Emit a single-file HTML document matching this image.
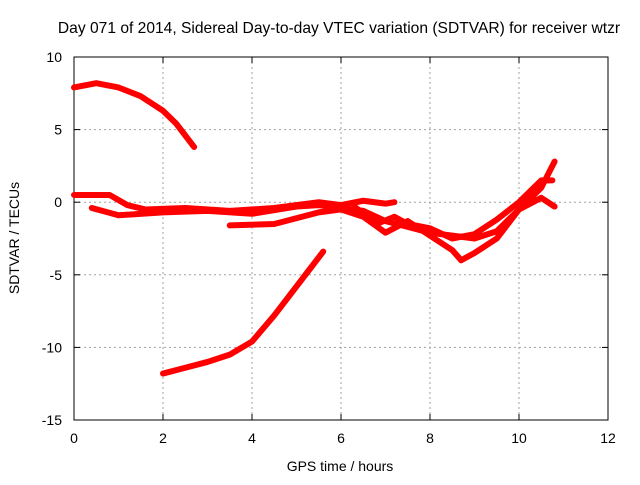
<!DOCTYPE html>
<html><head><meta charset="utf-8"><style>
body{margin:0;background:#fff;}
svg text{font-family:"Liberation Sans",sans-serif;font-size:14px;fill:#000;}
</style></head><body>
<svg id="chart" width="640" height="480">
<text x="339" y="33" text-anchor="middle" style="font-size:15.6px">Day 071 of 2014, Sidereal Day-to-day VTEC variation (SDTVAR) for receiver wtzr</text>
<g id="grid"></g><g id="axes"></g><g id="series"></g>
<text x="340" y="471" text-anchor="middle">GPS time / hours</text>
<text transform="translate(19,238) rotate(-90)" text-anchor="middle">SDTVAR / TECUs</text>
</svg>
<script>
const xTicks=[0,2,4,6,8,10,12];
const yTicks=[10,5,0,-5,-10,-15];
const seriesA=[[0,7.9],[0.5,8.2],[1,7.9],[1.5,7.3],[2,6.3],[2.3,5.4],[2.7,3.8]];
const seriesB=[[2,-11.8],[2.5,-11.4],[3,-11],[3.5,-10.5],[4,-9.6],[4.5,-7.8],[5,-5.8],[5.3,-4.6],[5.6,-3.4]];
const seriesC=[[0,0.5],[0.8,0.5],[1.2,-0.2],[1.6,-0.5],[2.5,-0.4],[3.5,-0.6],[4.5,-0.4],[5.5,0],[6,-0.2],[6.5,0.1],[7,-0.1],[7.2,0]];
const seriesD=[[0.4,-0.4],[1,-0.9],[2,-0.7],[3,-0.6],[4,-0.8],[5,-0.3],[5.5,-0.2],[6,-0.4],[6.5,-0.6],[7,-1.3],[7.5,-1.7],[8,-2.1],[8.5,-2.3],[9,-2.5],[9.5,-2],[10,-0.5],[10.5,0.3],[10.8,-0.3]];
const seriesE=[[3.5,-1.6],[4.5,-1.5],[5.5,-0.7],[6,-0.5],[6.5,-1],[7,-2.1],[7.5,-1.3],[8,-2.3],[8.5,-3.3],[8.7,-4],[9,-3.5],[9.5,-2.5],[10,-0.5],[10.5,1],[10.8,2.8]];
const seriesF=[[6.3,-0.3],[6.8,-1.5],[7.2,-1],[7.5,-1.5],[8,-1.8],[8.5,-2.5],[9,-2.2],[9.5,-1.2],[10,0],[10.5,1.5],[10.75,1.5]];
const allSeries=[seriesA,seriesB,seriesC,seriesD,seriesE,seriesF];
const X0=74,X1=608,Y0=57,Y1=420;
const sx=h=>X0+(h-0)/(12-0)*(X1-X0);
const sy=v=>Y0+(10-v)/(10-(-15))*(Y1-Y0);
const NS="http://www.w3.org/2000/svg";
const grid=document.getElementById('grid'),axes=document.getElementById('axes'),ser=document.getElementById('series');
function mk(tag,attrs,parent){const e=document.createElementNS(NS,tag);for(const k in attrs)e.setAttribute(k,attrs[k]);parent.appendChild(e);return e;}
xTicks.forEach(t=>{
  const x=sx(t);
  if(t>0&&t<12){const g=mk('line',{x1:x,x2:x,y1:Y0,y2:Y1,stroke:'#a0a0a0','stroke-dasharray':'2,3'},grid);
  
  }
  mk('line',{x1:x,x2:x,y1:Y1,y2:Y1-6,stroke:'#000'},axes);
  mk('line',{x1:x,x2:x,y1:Y0,y2:Y0+6,stroke:'#000'},axes);
  const l=mk('text',{x:x,y:Y1+23,'text-anchor':'middle'},axes);l.textContent=t;
  
  
});
yTicks.forEach(t=>{
  const y=sy(t);
  if(t<10&&t>-15){const g=mk('line',{x1:X0,x2:X1,y1:y,y2:y,stroke:'#a0a0a0','stroke-dasharray':'2,3'},grid);
  
  }
  mk('line',{x1:X0,x2:X0+6,y1:y,y2:y,stroke:'#000'},axes);
  mk('line',{x1:X1,x2:X1-6,y1:y,y2:y,stroke:'#000'},axes);
  const l=mk('text',{x:X0-12,y:y+5,'text-anchor':'end'},axes);l.textContent=t;
  
  
});
const box=mk('rect',{x:X0,y:Y0,width:X1-X0,height:Y1-Y0,fill:'none',stroke:'#000'},axes);


allSeries.forEach((s,i)=>{
  const p=mk('polyline',{points:s.map(d=>sx(d[0])+','+sy(d[1])).join(' '),fill:'none',stroke:'#ff0000','stroke-width':6,'stroke-linejoin':'round','stroke-linecap':'round'},ser);
  
  
});
</script>
</body></html>
